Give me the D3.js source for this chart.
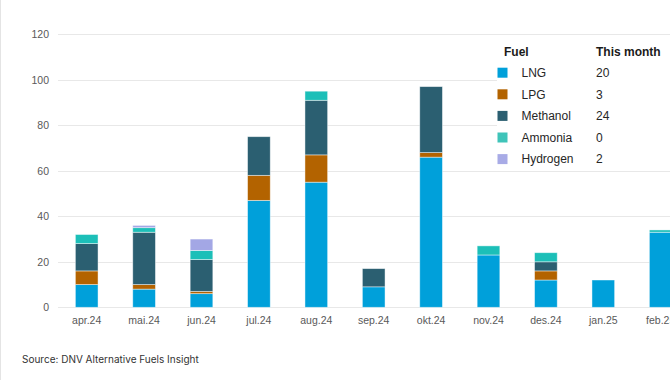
<!DOCTYPE html>
<html>
<head>
<meta charset="utf-8">
<script src="https://cdn.jsdelivr.net/npm/d3@7/dist/d3.min.js"></script>
<style>
  html, body { margin: 0; padding: 0; background: #fff; }
  svg { display: block; font-family: "Liberation Sans", Arial, sans-serif; }
</style>
</head>
<body>
<svg id="chart" width="670" height="380"></svg>
<script>
// ---- data ----
const months = ["apr.24","mai.24","jun.24","jul.24","aug.24","sep.24","okt.24","nov.24","des.24","jan.25","feb.25","mar.25"];
const fuels = ["LNG","LPG","Methanol","Ammonia","Hydrogen"];
const lng      = [10, 8, 6, 47, 55, 9, 66, 23, 12, 12, 33, 20];
const lpg      = [6, 2, 1, 11, 12, 0, 2, 0, 4, 0, 0, 3];
const methanol = [12, 23, 14, 17, 24, 8, 29, 0, 4, 0, 0, 24];
const ammonia  = [4, 2, 4, 0, 4, 0, 0, 4, 4, 0, 1, 0];
const hydrogen = [0, 1, 5, 0, 0, 0, 0, 0, 0, 0, 0, 2];
const thisMonth = [20, 3, 24, 0, 2];
const yTicks = [0, 20, 40, 60, 80, 100, 120];
const sourceText = "Source: DNV Alternative Fuels Insight";

const colors = {LNG:"#00a0da", LPG:"#b36300", Methanol:"#2b5f71", Ammonia:"#1cbfb8", Hydrogen:"#a3a7e5"};
const legendColors = {LNG:"#00a0da", LPG:"#b36300", Methanol:"#2b5f71", Ammonia:"#3fc4b9", Hydrogen:"#a8abe6"};

const seriesValues = {LNG: lng, LPG: lpg, Methanol: methanol, Ammonia: ammonia, Hydrogen: hydrogen};
const table = months.map((m, i) => {
  const row = {month: m};
  fuels.forEach(f => row[f] = seriesValues[f][i]);
  return row;
});

const svg = d3.select("#chart");

const x = d3.scaleBand().domain(months).range([58, 58 + months.length * 57.4]).paddingInner(0.605).paddingOuter(0.3025);
const y = d3.scaleLinear().domain([0, 120]).range([307.3, 34.3]);

// left faint border
svg.append("line").attr("x1", 0.5).attr("x2", 0.5).attr("y1", 0).attr("y2", 380)
  .attr("stroke", "#e4e4e4").attr("stroke-width", 1);

// gridlines
svg.append("g").selectAll("line").data(yTicks).join("line")
  .attr("x1", 58).attr("x2", 670)
  .attr("y1", d => Math.round(y(d)) + 0.5).attr("y2", d => Math.round(y(d)) + 0.5)
  .attr("stroke", "#e8e8e8").attr("stroke-width", 1.2);

// y axis labels
const yAxis = d3.axisLeft(y).tickValues(yTicks).tickSize(0).tickPadding(0);
const gy = svg.append("g").attr("transform", "translate(49,0)").call(yAxis);
gy.select(".domain").remove();
gy.selectAll("text").attr("fill", "#595959").attr("font-size", "10.5px")
  .attr("font-family", "Liberation Sans, Arial, sans-serif");

// stacked bars
const stack = d3.stack().keys(fuels)(table);
svg.append("g").selectAll("g").data(stack).join("g")
  .attr("fill", d => colors[d.key])
  .selectAll("rect").data(d => d.filter(p => p[1] - p[0] > 0)).join("rect")
  .attr("x", d => x(d.data.month))
  .attr("width", x.bandwidth())
  .attr("y", d => y(d[1]))
  .attr("height", d => y(d[0]) - y(d[1]))
  .attr("stroke", "rgba(255,255,255,0.55)")
  .attr("stroke-width", 0.8);

// x axis labels
const xAxis = d3.axisBottom(x).tickSize(0).tickPadding(0);
const gx = svg.append("g").attr("transform", "translate(0,317)").call(xAxis);
gx.select(".domain").remove();
gx.selectAll("text").attr("fill", "#595959").attr("font-size", "10.5px")
  .attr("font-family", "Liberation Sans, Arial, sans-serif");

// legend box (white, covering gridlines)
const lg = svg.append("g");
lg.append("rect").attr("x", 497).attr("y", 40).attr("width", 173).attr("height", 126).attr("fill", "#fff");
lg.append("text").attr("x", 504).attr("y", 56).text("Fuel")
  .attr("font-size", "12px").attr("font-weight", "bold").attr("fill", "#1a1a1a");
lg.append("text").attr("x", 596).attr("y", 56).text("This month")
  .attr("font-size", "12px").attr("font-weight", "bold").attr("fill", "#1a1a1a");
const rows = lg.selectAll("g.row").data(fuels).join("g").attr("class", "row")
  .attr("transform", (d, i) => `translate(0, ${72.7 + i * 21.6})`);
rows.append("rect").attr("x", 497.5).attr("y", -5).attr("width", 10).attr("height", 10)
  .attr("fill", d => legendColors[d]);
rows.append("text").attr("x", 521.5).attr("y", 4.3).text(d => d)
  .attr("font-size", "12px").attr("fill", "#262626");
rows.append("text").attr("x", 596).attr("y", 4.3).text((d, i) => thisMonth[i])
  .attr("font-size", "12px").attr("fill", "#262626");

// source
svg.append("text").attr("x", 22).attr("y", 363).text(sourceText)
  .attr("font-size", "10px").attr("fill", "#333")
  .attr("font-family", "Inter, Liberation Sans, Arial, sans-serif");
</script>
</body>
</html>
